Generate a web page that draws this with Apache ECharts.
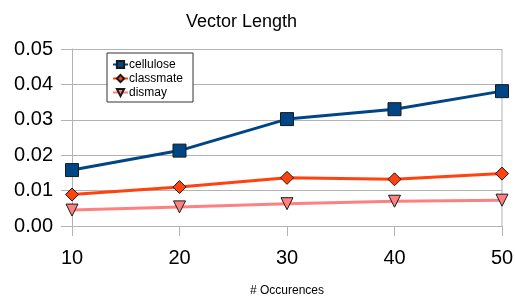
<!DOCTYPE html>
<html>
<head>
<meta charset="utf-8">
<script src="https://cdn.jsdelivr.net/npm/echarts@6/dist/echarts.min.js"></script>
<style>
  html, body { margin: 0; padding: 0; background: #fff; }
  #chart { width: 515px; height: 297px; }
</style>
</head>
<body>
<div id="chart"></div>
<script>
// occurrences on x, vector length on y
const occurences = [10, 20, 30, 40, 50];
const cellulose = [0.0158, 0.0213, 0.0302, 0.0330, 0.0381];
const classmate = [0.0089, 0.0110, 0.0136, 0.0132, 0.0148];
const dismay = [0.0045, 0.0054, 0.0063, 0.0070, 0.0073];

const pairs = ys => occurences.map((x, i) => [x, ys[i]]);

const chart = echarts.init(document.getElementById('chart'));

const gridLine = { show: true, lineStyle: { color: '#b3b3b3', width: 1 } };
const axisFont = { fontFamily: 'Liberation Sans', fontSize: 20, color: '#000' };

const mk = (name, data, color, symbol, size) => ({
  name,
  type: 'line',
  data: pairs(data),
  symbol,
  symbolSize: size,
  lineStyle: { color, width: 3 },
  itemStyle: { color, borderColor: '#1a1a1a', borderWidth: 1 },
  emphasis: { disabled: true },
  z: 3
});

chart.setOption({
  animation: false,
  title: {
    text: 'Vector Length',
    left: 181,
    top: 8,
    textStyle: { fontFamily: 'Liberation Sans', fontSize: 18, fontWeight: 'normal', color: '#000' }
  },
  legend: {
    orient: 'vertical',
    left: 107,
    top: 53,
    itemWidth: 15,
    itemHeight: 9,
    itemGap: 1,
    padding: [5, 10, 3, 5],
    borderColor: '#333',
    borderWidth: 1,
    backgroundColor: '#fff',
    textStyle: { fontFamily: 'Liberation Sans', fontSize: 12, lineHeight: 13, color: '#000', padding: [0, 0, 0, -4] },
    data: ['cellulose', 'classmate', 'dismay']
  },
  grid: { left: 72, right: 13, top: 49, bottom: 71, containLabel: false, outerBoundsMode: 'none' },
  xAxis: {
    type: 'value',
    min: 10,
    max: 50,
    interval: 10,
    name: '# Occurences',
    nameLocation: 'middle',
    nameGap: 59,
    nameTextStyle: { fontFamily: 'Liberation Sans', fontSize: 12, color: '#000' },
    axisLine: { show: true, lineStyle: { color: '#b3b3b3' } },
    axisTick: { show: true, length: 10, lineStyle: { color: '#b3b3b3' } },
    axisLabel: Object.assign({ margin: 22 }, axisFont),
    splitLine: { show: false }
  },
  yAxis: {
    type: 'value',
    min: 0,
    max: 0.05,
    interval: 0.01,
    axisLine: { show: true, lineStyle: { color: '#b3b3b3' } },
    axisTick: { show: true, length: 11, lineStyle: { color: '#b3b3b3' } },
    axisLabel: Object.assign({ margin: 19, formatter: v => v.toFixed(2) }, axisFont),
    splitLine: gridLine
  },
  series: [
    mk('cellulose', cellulose, '#004586', 'rect', 13),
    mk('classmate', classmate, '#ff420e', 'diamond', 13),
    mk('dismay', dismay, '#ff8080', 'path://M0,0 L10,0 L5,9 Z', 12),
    {
      // right border line of plot area
      type: 'line',
      data: [[50, 0], [50, 0.05]],
      symbol: 'none',
      silent: true,
      lineStyle: { color: '#b3b3b3', width: 1 },
      z: 1
    }
  ]
});
</script>
</body>
</html>
